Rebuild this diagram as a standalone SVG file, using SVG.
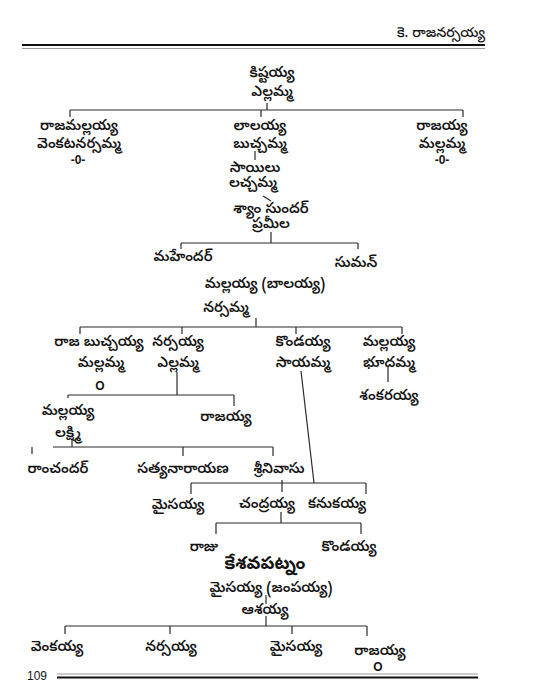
<svg xmlns="http://www.w3.org/2000/svg" width="537" height="700" viewBox="0 0 537 700">
<style>
text{font-family:"Noto Sans Telugu","Noto Sans",sans-serif;font-size:14.5px;fill:#141414;text-anchor:middle;font-weight:600}
.hdr{font-size:14px;text-anchor:end;font-weight:500}
.big{font-size:18px;font-weight:700}
.num{font-family:"Liberation Sans",Arial,sans-serif;font-size:12px;text-anchor:start;font-weight:400}
.z{font-family:"Liberation Sans",Arial,sans-serif;font-weight:700;font-size:12px}
#conn path{stroke:#2a2a2a;stroke-width:1.2;fill:none}
</style>
<rect width="537" height="700" fill="#ffffff"/>
<g id="header">
<text class="hdr" x="485" y="37">కె. రాజనర్సయ్య</text>
<line x1="22" y1="45" x2="485" y2="45" stroke="#111" stroke-width="2.2"/>
<line x1="22" y1="48.5" x2="485" y2="48.5" stroke="#999" stroke-width="1"/>
</g>
<g id="footer">
<text class="num" x="27" y="680">109</text>
<line x1="57" y1="674" x2="478" y2="674" stroke="#999" stroke-width="1"/>
<line x1="57" y1="677.5" x2="478" y2="677.5" stroke="#111" stroke-width="2.2"/>
</g>
<g id="conn">
<path d="M267 103V110M70 110H463M70 110V117M261 110V117M463 110V117"/>
<path d="M255 151V160"/>
<path d="M263 196L271 201"/>
<path d="M271 232V243M181 243H358M181 243V249M358 243V249"/>
<path d="M256 318V327M80 327H402M80 327V334M182 327V334M296 327V334M402 327V334"/>
<path d="M388 367V382"/>
<path d="M177 372V395M68 395H234M68 395V398M234 395V406"/>
<path d="M301 371L314 483"/>
<path d="M72 440V447M53 447H273M183 447V456M273 447V456M32 447V454"/>
<path d="M191 483H366M191 483V494M366 483V494M282 480V492"/>
<path d="M281 512V523M216 523H361M216 523V534M361 523V534"/>
<path d="M266 595V604"/>
<path d="M266 616V626M65 626H367M65 626V634M170 626V634M292 626V634M367 626V636"/>
</g>
<g id="n-kishtayya"><text x="272" y="77">కిష్టయ్య</text><text x="272" y="96">ఎల్లమ్మ</text></g>
<g id="n-rajamallayya"><text x="79" y="130">రాజమల్లయ్య</text><text x="79" y="148">వెంకటనర్సమ్మ</text><text class="z" x="78" y="164">-0-</text></g>
<g id="n-lalayya"><text x="260" y="130">లాలయ్య</text><text x="260" y="148">బుచ్చమ్మ</text></g>
<g id="n-rajayya1"><text x="442" y="130">రాజయ్య</text><text x="442" y="148">మల్లమ్మ</text><text class="z" x="442" y="164">-0-</text></g>
<g id="n-sailu"><text x="255" y="172">సాయిలు</text><text x="253" y="187">లచ్చమ్మ</text></g>
<g id="n-shyamsundar"><text x="271" y="213">శ్యాం సుందర్</text><text x="271" y="228">ప్రమీల</text></g>
<g id="n-mahender"><text x="183" y="261">మహేందర్</text></g>
<g id="n-suman"><text x="356" y="267">సుమన్</text></g>
<g id="n-mallayya-balayya"><text x="265" y="288">మల్లయ్య (బాలయ్య)</text><text x="226" y="312">నర్సమ్మ</text></g>
<g id="n-rajabuchayya"><text x="99" y="346">రాజ బుచ్చయ్య</text><text x="101" y="367">మల్లమ్మ</text><text class="z" x="100" y="390">O</text></g>
<g id="n-narsayya"><text x="178" y="346">నర్సయ్య</text><text x="178" y="367">ఎల్లమ్మ</text></g>
<g id="n-kondayya"><text x="303" y="346">కొండయ్య</text><text x="303" y="367">సాయమ్మ</text></g>
<g id="n-mallayya2"><text x="389" y="346">మల్లయ్య</text><text x="389" y="367">భూదమ్మ</text></g>
<g id="n-shankarayya"><text x="389" y="400">శంకరయ్య</text></g>
<g id="n-mallayya3"><text x="68" y="415">మల్లయ్య</text><text x="68" y="437">లక్ష్మి</text></g>
<g id="n-rajayya2"><text x="226" y="421">రాజయ్య</text></g>
<g id="n-ramchander"><text x="58" y="473">రాంచందర్</text></g>
<g id="n-satyanarayana"><text x="183" y="473">సత్యనారాయణ</text></g>
<g id="n-srinivasu"><text x="279" y="473">శ్రీనివాసు</text></g>
<g id="n-maisayya1"><text x="178" y="509">మైసయ్య</text></g>
<g id="n-chandrayya"><text x="267" y="508">చంద్రయ్య</text></g>
<g id="n-kanukayya"><text x="337" y="508">కనుకయ్య</text></g>
<g id="n-raju"><text x="204" y="551">రాజు</text></g>
<g id="n-kondayya2"><text x="349" y="551">కొండయ్య</text></g>
<g id="n-keshavapatnam"><text class="big" x="265" y="569">కేశవపట్నం</text></g>
<g id="n-maisayya-jampayya"><text x="271" y="592">మైసయ్య (జంపయ్య)</text></g>
<g id="n-ashayya"><text x="265" y="614">ఆశయ్య</text></g>
<g id="n-venkayya"><text x="57" y="651">వెంకయ్య</text></g>
<g id="n-narsayya2"><text x="171" y="651">నర్సయ్య</text></g>
<g id="n-maisayya2"><text x="296" y="651">మైసయ్య</text></g>
<g id="n-rajayya3"><text x="380" y="655">రాజయ్య</text><text class="z" x="378" y="671">O</text></g>
</svg>
